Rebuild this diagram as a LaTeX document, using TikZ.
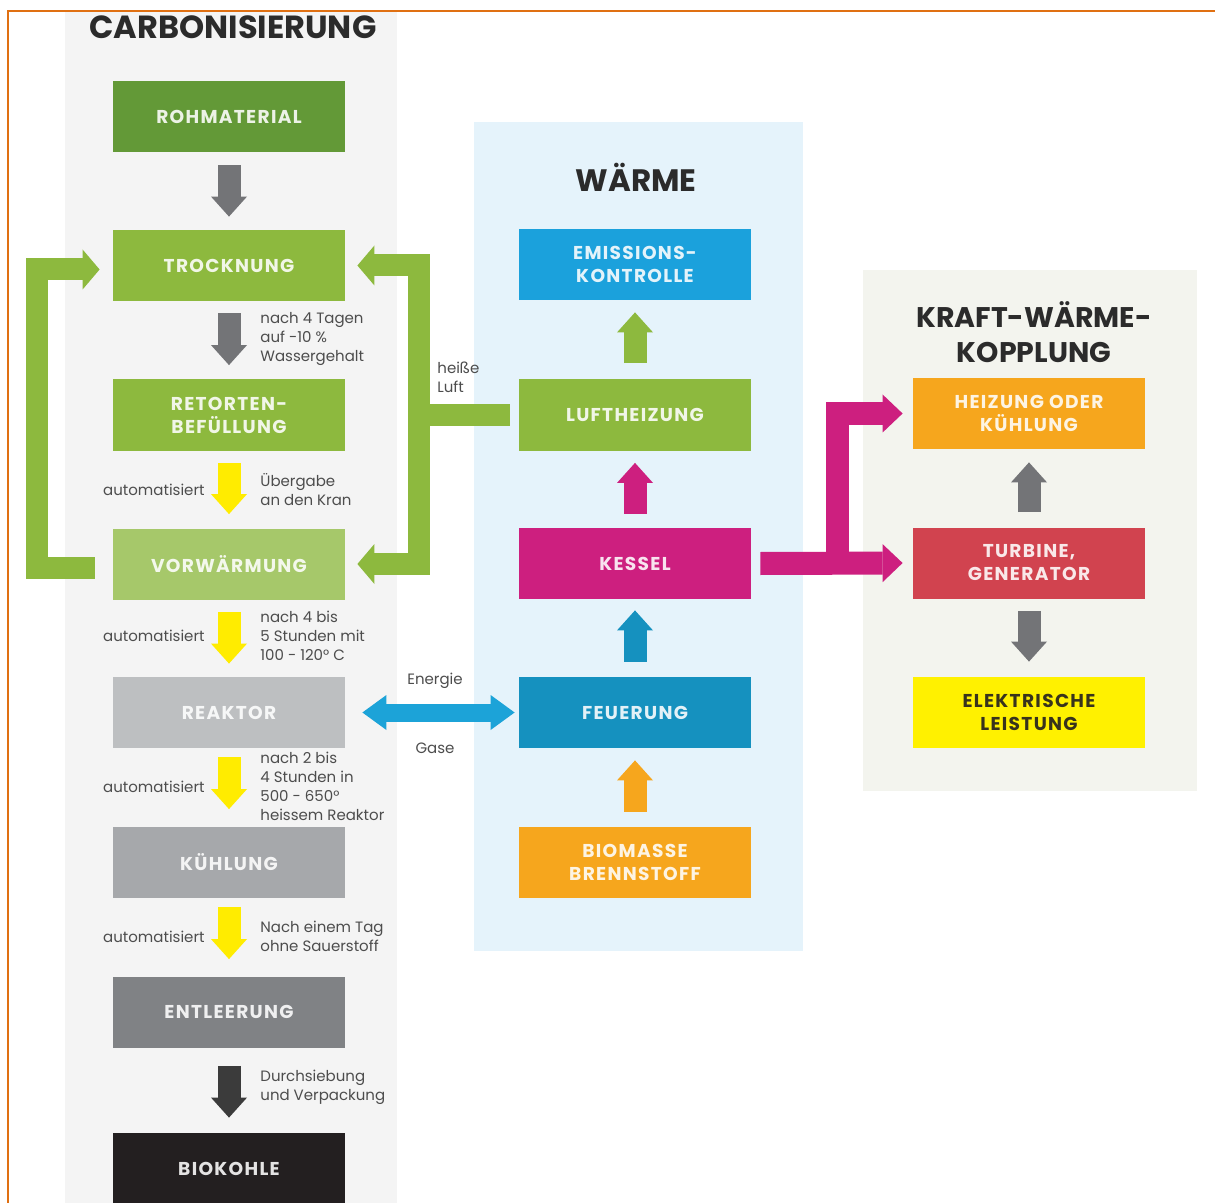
\documentclass[tikz,border=0pt]{standalone}
\usepackage{fontspec}
\setmainfont{Poppins}
\newfontfamily\boxfam{Poppins}[LetterSpace=7.0]
\usetikzlibrary{arrows.meta}
\definecolor{leftbg}{HTML}{F4F4F4}
\definecolor{midbg}{HTML}{E5F3FB}
\definecolor{rightbg}{HTML}{F3F4EE}
\definecolor{borderor}{HTML}{E07012}
\definecolor{dkgreen}{HTML}{639937}
\definecolor{mgreen}{HTML}{8DB93E}
\definecolor{ltgreen}{HTML}{A6C86A}
\definecolor{greyA}{HTML}{BDBFC1}
\definecolor{greyB}{HTML}{A6A8AB}
\definecolor{greyC}{HTML}{808285}
\definecolor{coal}{HTML}{231F20}
\definecolor{arrgrey}{HTML}{737477}
\definecolor{arrdark}{HTML}{3B3B3B}
\definecolor{flowyel}{HTML}{FFEC00}
\definecolor{emisblue}{HTML}{1BA1DC}
\definecolor{magen}{HTML}{CD1F7F}
\definecolor{fireblue}{HTML}{1591BF}
\definecolor{orng}{HTML}{F6A61D}
\definecolor{turbred}{HTML}{D1434F}
\definecolor{elyel}{HTML}{FFF100}
\definecolor{dblblue}{HTML}{1CA3D8}
\definecolor{titlec}{HTML}{2B2B2B}
\definecolor{txtgrey}{HTML}{4D4D4D}
\newcommand{\boxfnt}{\boxfam\bfseries\fontsize{9.3}{11.5}\selectfont}
\newcommand{\smallfnt}{\fontsize{7.5}{9.5}\selectfont}
\begin{document}
\begin{tikzpicture}[x=0.5pt,y=-0.5pt,
  box/.style={rectangle, minimum width=116pt, minimum height=35.5pt, inner sep=0pt,
    align=center, text=white, text opacity=0.88, font=\boxfnt},
  ttl/.style={text=titlec, align=center, inner sep=0pt},
  note/.style={text=txtgrey, font=\smallfnt, align=left, inner sep=0pt},
  vflow/.style={line width=11.5pt, line cap=butt,
    -{Triangle[width=18pt,length=10pt,line width=0pt]}},
  loopflow/.style={line width=11pt, line join=miter, line cap=butt,
    -{Triangle[width=20pt,length=8.5pt,line width=0pt]}},
  magflow/.style={magen, line width=11.5pt, line join=miter, line cap=butt,
    -{Triangle[width=19pt,length=10pt,line width=0pt]}},
  dblflow/.style={dblblue, line width=9pt, line cap=butt,
    {Triangle[width=17.5pt,length=12pt,line width=0pt]}-{Triangle[width=17.5pt,length=12pt,line width=0pt]}}
]
\useasboundingbox (0,0) rectangle (1215,1203);
\fill[white] (0,0) rectangle (1215,1203);
% panels
\fill[leftbg] (65,11) rectangle (397,1203);
\fill[midbg] (474,122) rectangle (803,951);
\fill[rightbg] (863,270) rectangle (1197,791);
% frame lines
\draw[borderor, line width=1pt] (8,1203) -- (8,11) -- (1215,11);

% titles
\node[ttl, font=\bfseries\fontsize{16}{18}\selectfont] (tcarb) at (233,27) {CARBONISIERUNG};
\node[ttl, font=\bfseries\fontsize{15.5}{18}\selectfont] (twarm) at (636,177) {WÄRME};
\node[ttl, font=\bfseries\fontsize{14.2}{17.5}\selectfont] (tkwk) at (1034,332) {KRAFT-WÄRME-\\KOPPLUNG};

% left column
\node[box, fill=dkgreen] (rohm) at (229,116.5) {ROHMATERIAL};
\node[box, fill=mgreen] (troc) at (229,265.5) {TROCKNUNG};
\node[box, fill=mgreen] (reto) at (229,415) {RETORTEN-\\BEFÜLLUNG};
\node[box, fill=ltgreen] (vorw) at (229,564) {VORWÄRMUNG};
\node[box, fill=greyA] (reak) at (229,712.5) {REAKTOR};
\node[box, fill=greyB] (kuhl) at (229,862) {KÜHLUNG};
\node[box, fill=greyC] (entl) at (229,1012) {ENTLEERUNG};
\node[box, fill=coal] (biok) at (229,1168.5) {BIOKOHLE};

% middle column
\node[box, fill=emisblue] (emis) at (635,264.5) {EMISSIONS-\\KONTROLLE};
\node[box, fill=mgreen] (luft) at (635,415) {LUFTHEIZUNG};
\node[box, fill=magen] (kess) at (635,563.5) {KESSEL};
\node[box, fill=fireblue] (feue) at (635,712.5) {FEUERUNG};
\node[box, fill=orng] (biom) at (635,862.5) {BIOMASSE\\BRENNSTOFF};

% right column
\node[box, fill=orng] (heiz) at (1029,413.5) {HEIZUNG ODER\\KÜHLUNG};
\node[box, fill=turbred] (turb) at (1029,563) {TURBINE,\\GENERATOR};
\node[box, fill=elyel, text=coal, text opacity=0.9] (elek) at (1029,712.5) {ELEKTRISCHE\\LEISTUNG};

% left column arrows
\draw[vflow, arrgrey] ([yshift=-6.5pt]rohm.south) -- ([yshift=6.5pt]troc.north);
\draw[vflow, arrgrey] ([yshift=-6pt]troc.south) -- ([yshift=7pt]reto.north);
\draw[vflow, flowyel] ([yshift=-6pt]reto.south) -- ([yshift=7pt]vorw.north);
\draw[vflow, flowyel] ([yshift=-6pt]vorw.south) -- ([yshift=6.5pt]reak.north);
\draw[vflow, flowyel] ([yshift=-4.5pt]reak.south) -- ([yshift=8.5pt]kuhl.north);
\draw[vflow, flowyel] ([yshift=-4.5pt]kuhl.south) -- ([yshift=8.5pt]entl.north);
\draw[vflow, arrdark] ([yshift=-9pt]entl.south) -- ([yshift=7.5pt]biok.north);

% middle column arrows
\draw[vflow, mgreen] ([yshift=8pt]luft.north) -- ([yshift=-6pt]emis.south);
\draw[vflow, magen] ([yshift=7pt]kess.north) -- ([yshift=-6pt]luft.south);
\draw[vflow, fireblue] ([yshift=7.5pt]feue.north) -- ([yshift=-5.5pt]kess.south);
\draw[vflow, orng] ([yshift=7.5pt]biom.north) -- ([yshift=-6pt]feue.south);

% right column arrows
\draw[vflow, arrgrey] ([yshift=7.5pt]turb.north) -- ([yshift=-6.5pt]heiz.south);
\draw[vflow, arrgrey] ([yshift=-6pt]turb.south) -- ([yshift=7.5pt]elek.north);

% left green loop
\draw[loopflow, mgreen] ([xshift=-9pt,yshift=-2pt]vorw.west) -| ([xshift=-38pt,yshift=-2pt]troc.west) -- ([xshift=-6.5pt,yshift=-2pt]troc.west);
% right green loop (hot air)
\draw[loopflow, mgreen] ([xshift=-4.5pt]luft.west) -| ([xshift=37pt]troc.east) -- ([xshift=6pt]troc.east);
\draw[loopflow, mgreen] ([xshift=-4.5pt]luft.west) -| ([xshift=37pt]vorw.east) -- ([xshift=6pt]vorw.east);

% magenta from Kessel
\draw[magflow] ([xshift=4.5pt]kess.east) -- ([xshift=-5pt]turb.west);
\draw[magflow] ([xshift=43pt]kess.east) |- ([xshift=-5pt]heiz.west);

% blue double arrow
\draw[dblflow] ([xshift=8.5pt]reak.east) -- ([xshift=-2pt]feue.west);

% notes
\node[note, anchor=west] (n1) at (260,339) {nach 4 Tagen\\auf -10 \%\\Wassergehalt};
\node[note, anchor=west] (n2) at (260,490) {Übergabe\\an den Kran};
\node[note, anchor=west] (n3) at (260,636) {nach 4 bis\\5 Stunden mit\\100 - 120° C};
\node[note, anchor=west] (n4) at (260,786) {nach 2 bis\\4 Stunden in\\500 - 650°\\heissem Reaktor};
\node[note, anchor=west] (n5) at (260,936) {Nach einem Tag\\ohne Sauerstoff};
\node[note, anchor=west] (n6) at (260,1087) {Durchsiebung\\und Verpackung};
\node[note, anchor=east] (a1) at (205,490) {automatisiert};
\node[note, anchor=east] (a2) at (205,636) {automatisiert};
\node[note, anchor=east] (a3) at (205,787) {automatisiert};
\node[note, anchor=east] (a4) at (205,937) {automatisiert};
\node[note, anchor=west] (hl) at (437,377) {heiße\\Luft};
\node[note] (en) at (435,681) {Energie};
\node[note] (ga) at (435,748) {Gase};
\end{tikzpicture}
\end{document}
